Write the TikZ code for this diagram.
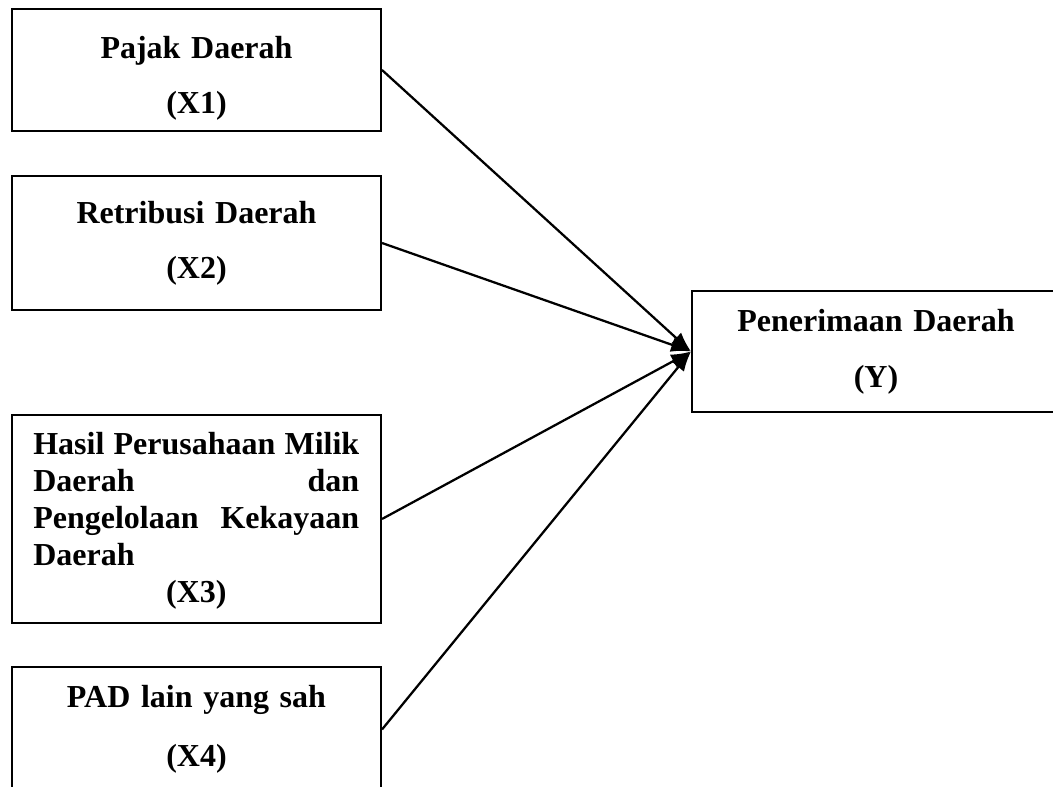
\documentclass[tikz,border=0pt]{standalone}
\usepackage{fontspec}
\setmainfont{Liberation Serif}
\usetikzlibrary{arrows.meta}
\tikzset{
  varbox/.style={draw, line width=1.5pt, minimum width=276.75pt, inner sep=0pt},
  vartext/.style={font=\bfseries\fontsize{24}{27.75}\selectfont, inner sep=0pt, text width=244.5pt, align=center, anchor=base},
  link/.style={line width=1.7pt, -{Latex[length=15pt,width=11pt]}}
}
\newcommand{\fullline}[1]{\makebox[244.5pt][l]{#1}}
\begin{document}
\begin{tikzpicture}[x=0.75pt,y=-0.75pt]
        \useasboundingbox (0,0) rectangle (1053,787);
        \pgfmathsetmacro{\boxMid}{196.5}
        \node[varbox, minimum height=91.5pt] (x1) at (\boxMid,70) {};
        \node[varbox, minimum height=100.5pt] (x2) at (\boxMid,243) {};
        \node[varbox, minimum height=156pt] (x3) at (\boxMid,519) {};
        \node[varbox, minimum height=93.75pt] (x4) at (\boxMid,729.5) {};
        \node[varbox, minimum width=276pt, minimum height=90.75pt] (y) at (876,351.5) {};
        \node[vartext] (x1t) at (\boxMid,59) {Pajak Daerah\\[13.5pt](X1)};
        \node[vartext] (x2t) at (\boxMid,224) {Retribusi Daerah\\[13.5pt](X2)};
        \node[vartext, anchor=base west, align=left] (x3t) at (33,455) {\fullline{Hasil\hfill Perusahaan\hfill Milik}\\
          \fullline{Daerah\hfill dan}\\
          \fullline{Pengelolaan\hfill Kekayaan}\\
          Daerah\\
          \makebox[244.5pt][c]{(X3)}};
        \node[vartext] (x4t) at (\boxMid,707) {PAD lain yang sah\\[16.5pt](X4)};
        \node[vartext] (yt) at (876,332) {Penerimaan Daerah\\[14.25pt](Y)};
        \draw[link] (x1.east) -- (y.west);
        \draw[link] (x2.east) -- (y.west);
        \draw[link] (x3.east) -- (y.west);
        \draw[link] (x4.east) -- (y.west);
      \end{tikzpicture}
\end{document}
